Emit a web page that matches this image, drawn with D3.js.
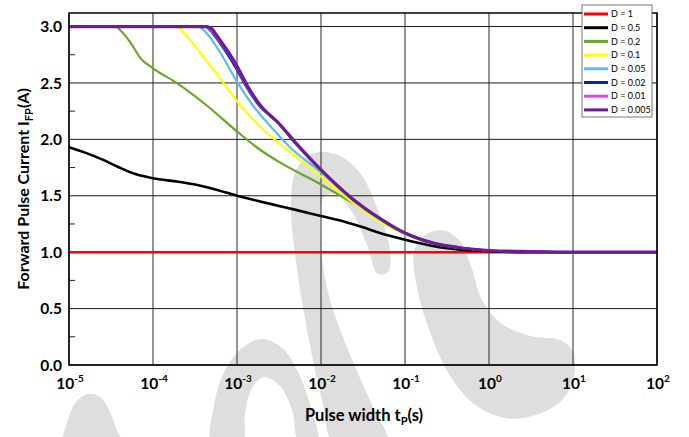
<!DOCTYPE html>
<html><head><meta charset="utf-8">
<script src="https://cdn.jsdelivr.net/npm/d3@7"></script>
<style>body{margin:0;background:#fff}svg{display:block}text{font-family:Lato,"Open Sans",sans-serif}</style>
</head><body><svg id="c" width="689" height="437"></svg>
<script>
// ---- data (log10 of pulse width, current in A) ----
const seriesLabels = ["D = 1","D = 0.5","D = 0.2","D = 0.1","D = 0.05","D = 0.02","D = 0.01","D = 0.005"];
const logT_D1   = [-5, 2];
const I_D1      = [1, 1];
const logT_D05  = [-5,-4.8,-4.6,-4.4,-4.2,-4.0,-3.7,-3.5,-3.3,-3.0,-2.7,-2.5,-2.3,-2.0,-1.7,-1.5,-1.3,-1.0,-0.7,-0.5,-0.2,0,0.5,1,2];
const I_D05     = [1.93,1.88,1.82,1.75,1.69,1.655,1.625,1.60,1.565,1.50,1.445,1.41,1.375,1.32,1.265,1.22,1.17,1.11,1.06,1.035,1.015,1.008,1.0,1.0,1.0];
const logT_D02  = [-5,-4.44,-4.38,-4.27,-4.15,-4.0,-3.72,-3.36,-3.0,-2.73,-2.5,-2.0,-1.7,-1.3,-1.0,-0.66,-0.3,0,1,2];
const I_D02     = [3.0,3.0,2.96,2.86,2.72,2.63,2.50,2.30,2.07,1.91,1.80,1.60,1.47,1.295,1.17,1.08,1.035,1.015,1.0,1.0];
const logT_D01  = [-5,-3.72,-3.64,-3.44,-3.16,-2.96,-2.69,-2.49,-2.0,-1.62,-1.3,-1.0,-0.66,-0.3,0,1,2];
const I_D01     = [3.0,3.0,2.95,2.77,2.50,2.30,2.09,1.96,1.67,1.44,1.27,1.16,1.08,1.035,1.015,1.0,1.0];
const logT_D005 = [-5,-3.46,-3.40,-3.20,-3.0,-2.81,-2.57,-2.37,-2.0,-1.62,-1.3,-1.0,-0.66,-0.3,0,1,2];
const I_D005    = [3.0,3.0,2.97,2.77,2.51,2.30,2.09,1.93,1.71,1.46,1.29,1.165,1.08,1.035,1.015,1.0,1.0];
const logT_D002 = [-5,-3.38,-3.33,-3.27,-3.02,-2.9,-2.75,-2.5,-2.3,-2.0,-1.62,-1.3,-1.0,-0.66,-0.3,0,0.5,1,2];
const I_D002    = [3.0,3.0,2.975,2.92,2.64,2.48,2.31,2.14,1.96,1.73,1.47,1.30,1.17,1.08,1.035,1.015,1.005,1.0,1.0];
const logT_D001 = [-5,-3.37,-3.32,-3.26,-3.01,-2.89,-2.74,-2.5,-2.29,-2.0,-1.62,-1.3,-1.0,-0.66,-0.3,0,0.5,1,2];
const I_D001    = [3.0,3.0,2.975,2.92,2.65,2.48,2.31,2.14,1.96,1.73,1.47,1.30,1.17,1.08,1.035,1.015,1.005,1.0,1.0];
const logT_D0005= [-5,-3.36,-3.30,-3.25,-3.0,-2.88,-2.73,-2.5,-2.29,-2.0,-1.62,-1.3,-1.0,-0.66,-0.3,0,0.5,1,2];
const I_D0005   = [3.0,3.0,2.98,2.93,2.65,2.48,2.31,2.14,1.96,1.73,1.47,1.30,1.17,1.08,1.035,1.015,1.005,1.0,1.0];
const xTickExp  = [-5,-4,-3,-2,-1,0,1,2];
const yTicks    = [0,0.5,1,1.5,2,2.5,3];
const yMinor    = [0.25,0.75,1.25,1.75,2.25,2.75];

const seriesT = [logT_D1,logT_D05,logT_D02,logT_D01,logT_D005,logT_D002,logT_D001,logT_D0005];
const seriesI = [I_D1,I_D05,I_D02,I_D01,I_D005,I_D002,I_D001,I_D0005];
const colors  = ["#ff0000","#000000","#6aa62a","#ffff00","#5bbcf5","#0a1fb5","#dd44f0","#6c1d96"];
const widths  = [2.6,2.6,2.2,2.2,2.2,2.2,2.2,3.2];

const svg = d3.select("#c");
const L=69,R=657,T=13,B=365;
const x = d3.scaleLog().domain([1e-5,1e2]).range([L,R]);
const y = d3.scaleLinear().domain([0,3.12]).range([B,T]);

// watermark (decorative)
const wm = svg.append("g").attr("fill","#dedede");
const wmShapes = [
 [[64,445],[68,420],[76,402],[88,394],[100,397],[109,410],[116,428],[122,445]],
 [[212,445],[214,405],[224,372],[242,348],[262,339],[282,348],[298,372],[310,405],[318,445],[300,445],[292,410],[280,386],[264,377],[252,388],[245,415],[242,445]],
 [[335,445],[322,400],[308,335],[296,262],[291,205],[296,170],[314,153],[338,155],[360,173],[378,210],[390,250],[388,272],[378,274],[367,245],[352,212],[336,194],[324,197],[320,232],[328,292],[348,350],[372,405],[388,445]],
 [[414,252],[424,236],[442,230],[459,240],[471,266],[482,300],[502,324],[530,336],[560,340],[573,352],[574,376],[562,400],[536,415],[505,418],[474,404],[449,374],[430,332],[418,292]]
];
const area = d3.line().curve(d3.curveCatmullRomClosed);
wmShapes.forEach(s=>wm.append("path").attr("d",area(s)));

// grid
const g = svg.append("g");
g.selectAll(".vg").data(xTickExp).join("line")
 .attr("x1",d=>x(Math.pow(10,d))).attr("x2",d=>x(Math.pow(10,d)))
 .attr("y1",T).attr("y2",B).attr("stroke","#2a2a2a").attr("stroke-width",1);
g.selectAll(".hg").data(yTicks).join("line")
 .attr("x1",L).attr("x2",R).attr("y1",d=>y(d)).attr("y2",d=>y(d))
 .attr("stroke","#1a1a1a").attr("stroke-width",1);
g.selectAll(".mt").data(yMinor).join("line")
 .attr("x1",L).attr("x2",L+6).attr("y1",d=>y(d)).attr("y2",d=>y(d))
 .attr("stroke","#222").attr("stroke-width",1);

// curves
const line = d3.line().x(d=>x(Math.pow(10,d[0]))).y(d=>y(d[1])).curve(d3.curveMonotoneX);
seriesT.forEach((ts,i)=>{
  const pts = ts.map((t,k)=>[t,seriesI[i][k]]);
  svg.append("path").attr("d",line(pts)).attr("fill","none")
    .attr("stroke",colors[i]).attr("stroke-width",widths[i]).attr("stroke-linejoin","round");
});

// frame
svg.append("rect").attr("x",L).attr("y",T).attr("width",R-L).attr("height",B-T)
 .attr("fill","none").attr("stroke","#000").attr("stroke-width",1.5);

// y tick labels
svg.selectAll(".yl").data(yTicks).join("text")
 .attr("x",62).attr("y",d=>y(d)).attr("dy","0.36em").attr("text-anchor","end")
 .attr("font-size",15.5).attr("font-weight","bold").text(d=>d.toFixed(1));

// x tick labels
const xl = svg.selectAll(".xl").data(xTickExp).join("text")
 .attr("x",d=>x(Math.pow(10,d))+1).attr("y",389).attr("text-anchor","middle")
 .attr("font-size",15.5).attr("font-weight","bold");
xl.append("tspan").text("10");
xl.append("tspan").attr("dy",-7).attr("font-size",10).text(d=>String(d));

// axis titles
const xt = svg.append("text").attr("x",364).attr("y",421).attr("text-anchor","middle")
 .attr("font-size",16.5).attr("font-weight","bold");
xt.append("tspan").text("Pulse width t");
xt.append("tspan").attr("dy",4).attr("font-size",11).text("P");
xt.append("tspan").attr("dy",-4).text("(s)");
const yt = svg.append("text").attr("transform","translate(29,189) rotate(-90)").attr("text-anchor","middle")
 .attr("font-size",16).attr("font-weight","bold");
yt.append("tspan").text("Forward Pulse Current I");
yt.append("tspan").attr("dy",4).attr("font-size",11).text("FP");
yt.append("tspan").attr("dy",-4).text("(A)");

// legend
const lg = svg.append("g");
lg.append("rect").attr("x",582).attr("y",5).attr("width",70).attr("height",112)
 .attr("fill","#fff").attr("stroke","#555").attr("stroke-width",0.8);
seriesLabels.forEach((s,i)=>{
  const yy = 14 + i*13.7;
  lg.append("line").attr("x1",584).attr("x2",608).attr("y1",yy).attr("y2",yy)
    .attr("stroke",colors[i]).attr("stroke-width",3);
  lg.append("text").attr("x",611).attr("y",yy).attr("dy","0.35em").attr("font-size",9).text(s);
});
</script></body></html>
